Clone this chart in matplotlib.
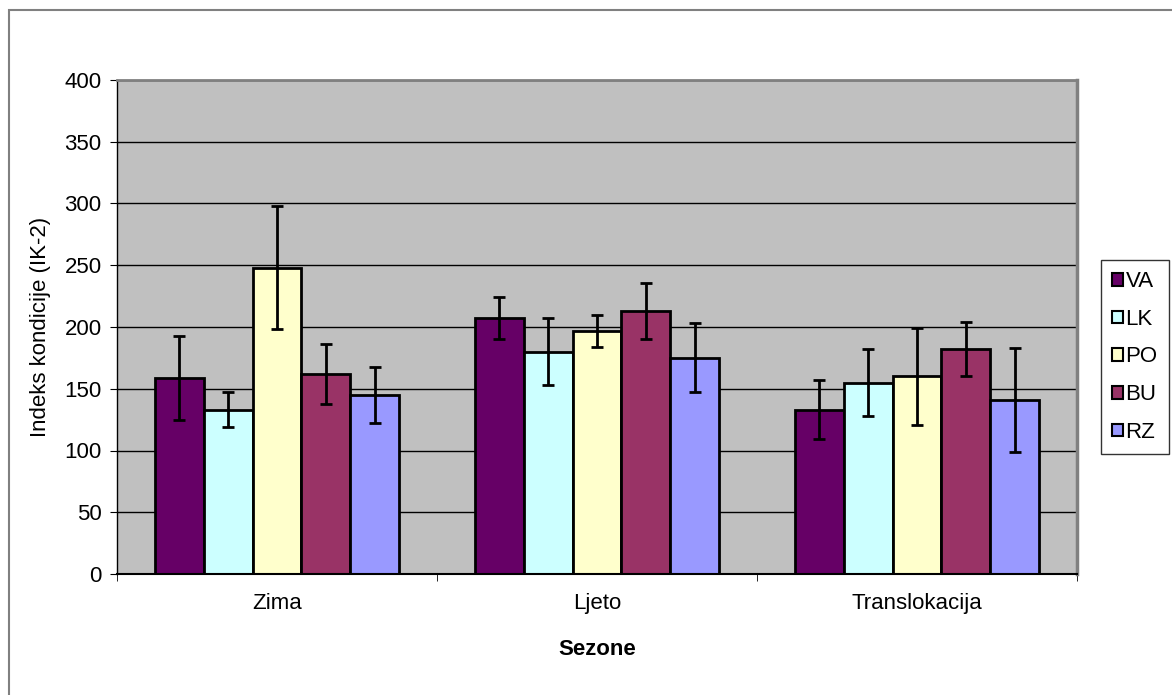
import numpy as np
import matplotlib
matplotlib.use('Agg')
from matplotlib import pyplot as plt
from matplotlib.patches import Rectangle

plt.rcParams['font.family'] = ['Liberation Sans', 'DejaVu Sans']

seasons = ['Zima', 'Ljeto', 'Translokacija']
groups = ['VA', 'LK', 'PO', 'BU', 'RZ']
colors = ['#660066', '#CCFFFF', '#FFFFCC', '#993366', '#9999FF']

# mean values per group, one entry per season
va = [159, 207, 133]
lk = [133, 180, 155]
po = [248, 197, 160]
bu = [162, 213, 182]
rz = [145, 175, 141]
means = [va, lk, po, bu, rz]

va_err = [34, 17, 24]
lk_err = [14, 27, 27]
po_err = [50, 13, 39]
bu_err = [24, 23, 22]
rz_err = [23, 28, 42]
errs = [va_err, lk_err, po_err, bu_err, rz_err]

fig = plt.figure(figsize=(11.72, 6.95), dpi=100)
W, H = 1172, 695

# outer chart frame
fig.patches.append(Rectangle((9 / W, -0.1), 1.2, (H - 10) / H + 0.1,
                             transform=fig.transFigure, fill=False,
                             edgecolor='#808080', linewidth=1.5))

ax = fig.add_axes([117 / W, 1 - 574 / H, (1077 - 117) / W, (574 - 80) / H])
ax.set_facecolor('#C0C0C0')

x = np.arange(len(seasons))
bw = 0.153
for i, (name, m, e, c) in enumerate(zip(groups, means, errs, colors)):
  pos = x + (i - 2) * bw
  ax.bar(pos, m, bw, color=c, edgecolor='black', linewidth=2, label=name, zorder=2)
  ax.errorbar(pos, m, yerr=e, fmt='none', ecolor='black', elinewidth=2,
              capsize=4.5, capthick=2, zorder=3)

ax.set_xlim(-0.5, 2.5)
ax.set_ylim(0, 400)
ax.set_yticks(range(0, 401, 50))
ax.yaxis.grid(True, color='black', linewidth=1)
ax.set_axisbelow(True)

ax.set_xticks(x)
ax.set_xticklabels(seasons, fontsize=16)
ax.set_xticks([-0.5, 0.5, 1.5, 2.5], minor=True)
ax.tick_params(axis='x', which='major', length=0, pad=14)
ax.tick_params(axis='x', which='minor', length=5, direction='out')
ax.tick_params(axis='y', labelsize=16, length=5, direction='out', pad=6)

ax.spines['top'].set_color('#808080')
ax.spines['right'].set_color('#808080')
ax.spines['right'].set_linewidth(2.5)
ax.spines['top'].set_linewidth(2)
ax.spines['left'].set_linewidth(1)
ax.spines['bottom'].set_linewidth(1.5)

ax.set_ylabel('Indeks kondicije (IK-2)', fontsize=16, labelpad=10)
ax.set_xlabel('Sezone', fontsize=16, fontweight='bold', labelpad=18)

leg = ax.legend(loc='center left', bbox_to_anchor=(1101 / W, 1 - 357 / H),
                bbox_transform=fig.transFigure, fontsize=16, frameon=True,
                fancybox=False, edgecolor='black', handlelength=0.5,
                handleheight=0.5, handletextpad=0.1, labelspacing=0.75,
                borderpad=0.5, borderaxespad=0)
leg.get_frame().set_linewidth(1)
for h in leg.legend_handles:
  h.set_linewidth(1.5)

fig.savefig('out.png', dpi=100)
